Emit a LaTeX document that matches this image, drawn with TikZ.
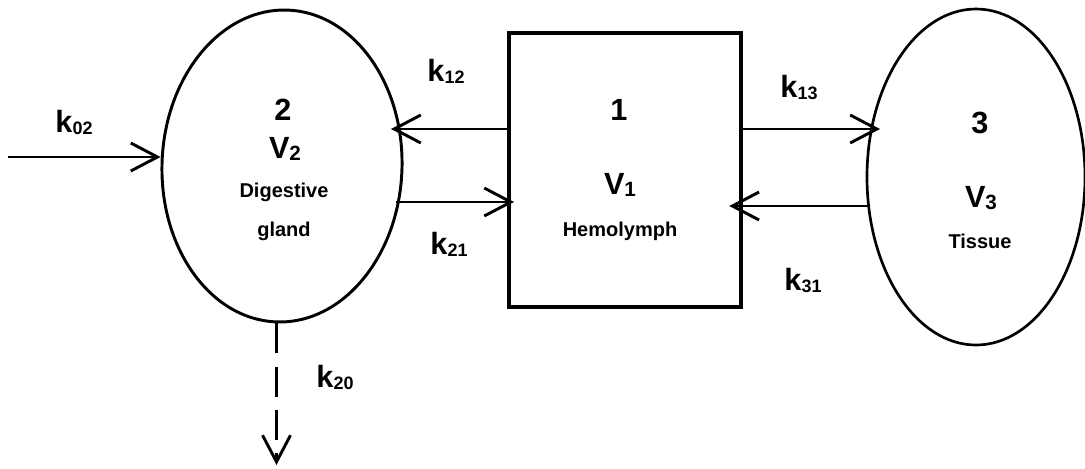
\documentclass[tikz,border=0pt]{standalone}
\usepackage{fontspec}
\setmainfont{Liberation Sans}
\usetikzlibrary{shapes.geometric,arrows.meta,calc}
\newcommand{\ksub}[1]{\raisebox{-2pt}{\fontsize{13.5}{14}\selectfont #1}}
\newcommand{\vsub}[1]{\raisebox{-2pt}{\fontsize{15.5}{16}\selectfont #1}}

\begin{document}
\begin{tikzpicture}[
    x=0.75pt, y=-0.75pt,
    every node/.style={font=\fontsize{23}{26}\selectfont\bfseries, inner sep=0pt},
    small/.style={font=\fontsize{15}{18}\selectfont\bfseries},
    pool/.style={ellipse, draw, line width=2.2pt, inner sep=0pt},
    compartment/.style={rectangle, draw, line width=2.4pt, inner sep=0pt},
    flow/.style={-{Straight Barb[length=20pt,width=21pt]}, line width=2.2pt},
    loss/.style={flow, dash pattern=on 22.5pt off 10pt},
]
\useasboundingbox (0,0) rectangle (1085,468);

% compartments
\node[pool, minimum width=180pt, minimum height=234pt, rotate=-2] (dg) at (282,166) {};
\node[compartment, minimum width=174pt, minimum height=205.5pt] (hl) at (625,170) {};
\node[pool, line width=2pt, minimum width=163.5pt, minimum height=252pt] (ts) at (976,177) {};

\node[anchor=base] (n2) at (283,120) {2};
\node[anchor=base] (v2) at (285,158) {V\vsub{2}};
\node[small, anchor=base] (dgtop) at (284,197) {Digestive};
\node[small, anchor=base] (dgbot) at (284,236) {gland};

\node[anchor=base] (n1) at (619,120) {1};
\node[anchor=base] (v1) at (620,194) {V\vsub{1}};
\node[small, anchor=base] (hlname) at (620,236) {Hemolymph};

\node[anchor=base] (n3) at (980,133) {3};
\node[anchor=base] (v3) at (981,207) {V\vsub{3}};
\node[small, anchor=base] (tsname) at (980,248) {Tissue};

% rate constants
\node[anchor=base] (k02) at (74,132) {k\ksub{02}};
\node[anchor=base] (k12) at (446,81) {k\ksub{12}};
\node[anchor=base] (k21) at (449,254) {k\ksub{21}};
\node[anchor=base] (k13) at (799,97) {k\ksub{13}};
\node[anchor=base] (k31) at (803,290) {k\ksub{31}};
\node[anchor=base] (k20) at (335,387) {k\ksub{20}};

% transfers
\coordinate (src) at (8,157);
\coordinate (t12) at (391,129);
\coordinate (s21) at (396,202);
\coordinate (t13) at (880,129);
\coordinate (s31) at (869,206);
\coordinate (sink) at (272,465);

\draw[flow] (src) -- (src -| dg.west);
\draw[flow] (hl.west |- t12) -- (t12);
\draw[flow] (s21) -- ($(hl.west |- s21)+(5pt,0)$);
\draw[flow] (hl.east |- t13) -- (t13);
\draw[flow] (s31) -- ($(hl.east |- s31)+(-10pt,0)$);
\draw[loss] (dg.south) -- (dg.south |- sink);
\end{tikzpicture}
\end{document}
